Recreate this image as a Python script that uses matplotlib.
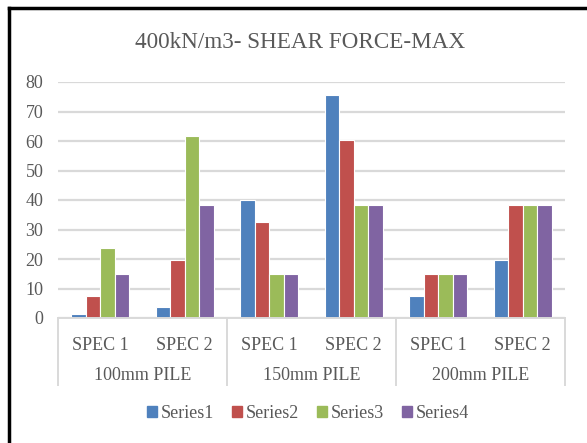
import matplotlib
matplotlib.use("Agg")
import matplotlib.pyplot as plt
import matplotlib.transforms as mtransforms
from matplotlib.lines import Line2D
import numpy as np

# Data
groups = ["100mm PILE", "150mm PILE", "200mm PILE"]
specs = ["SPEC 1", "SPEC 2"]
series_names = ["Series1", "Series2", "Series3", "Series4"]
series1 = [1.4, 3.7, 40.0, 75.6, 7.6, 19.6]
series2 = [7.5, 19.6, 32.7, 60.4, 15.0, 38.4]
series3 = [23.7, 61.7, 15.0, 38.4, 15.0, 38.4]
series4 = [15.0, 38.4, 15.0, 38.4, 15.0, 38.4]
yticks = [0, 10, 20, 30, 40, 50, 60, 70, 80]

colors = ["#4F81BD", "#C0504D", "#9BBB59", "#8064A2"]
txt_color = "#595959"
grid_color = "#D9D9D9"
font = ["Liberation Serif", "DejaVu Serif"]
plt.rcParams["font.family"] = font
fs = 13

W, H = 587, 443
fig = plt.figure(figsize=(W / 100, H / 100), dpi=100)
fig.patch.set_facecolor("white")

# axes placed in pixel terms
left, right, top, bottom = 58, 565, 82, 318
ax = fig.add_axes([left / W, 1 - bottom / H, (right - left) / W, (bottom - top) / H])

n_cat = len(groups) * len(specs)
x = np.arange(n_cat)
bw = 0.172
all_series = [series1, series2, series3, series4]
for i, vals in enumerate(all_series):
    ax.bar(x + (i - 1.5) * bw, vals, width=bw, color=colors[i],
           edgecolor="white", linewidth=0.8, zorder=3, label=series_names[i])

ax.set_xlim(-0.5, n_cat - 0.5)
ax.set_ylim(0, 80)
ax.set_yticks(yticks)
ax.set_yticklabels([str(t) for t in yticks])
ax.yaxis.grid(True, color=grid_color, linewidth=1.6, zorder=0)
ax.tick_params(axis="y", length=0, pad=10.5, labelsize=fs, labelcolor=txt_color)
ax.set_xticks([])
for s in ["top", "right", "left"]:
    ax.spines[s].set_visible(False)
ax.spines["bottom"].set_color(grid_color)
ax.spines["bottom"].set_linewidth(1.4)
ax.spines["bottom"].set_zorder(4)

# multi-level category axis
trans = mtransforms.blended_transform_factory(ax.transData, ax.transAxes)
y_end = (bottom - 385) / (bottom - top)
for b in [-0.5, 1.5, 3.5, 5.5]:
    ax.plot([b, b], [0, y_end], transform=trans, color=grid_color,
            linewidth=1.4, clip_on=False)
y_spec = (bottom - 345) / (bottom - top)
y_grp = (bottom - 376) / (bottom - top)
for k in range(n_cat):
    ax.text(k, y_spec, specs[k % 2], transform=trans, ha="center", va="center",
            fontsize=fs, color=txt_color)
for g, name in enumerate(groups):
    ax.text(2 * g + 0.5, y_grp, name, transform=trans, ha="center", va="center",
            fontsize=fs, color=txt_color)

fig.text(300 / W, 1 - 43 / H, "400kN/m3- SHEAR FORCE-MAX", ha="center",
         va="center", fontsize=16.7, color=txt_color)

handles = [plt.Rectangle((0, 0), 1, 1, color=c) for c in colors]
fig.legend(handles, series_names, loc="center", bbox_to_anchor=(308 / W, 1 - 413 / H),
           ncol=4, frameon=False, fontsize=fs, labelcolor=txt_color,
           handlelength=0.55, handleheight=0.55, handletextpad=0.2,
           columnspacing=1.0)

# chart frame: black lines at left and top
fig.add_artist(Line2D([9 / W, 9 / W], [0, 1 - 8 / H], color="black", linewidth=2.5))
fig.add_artist(Line2D([9 / W, 1], [1 - 8 / H, 1 - 8 / H], color="black", linewidth=2.5))

plt.savefig("out.png", dpi=100)
